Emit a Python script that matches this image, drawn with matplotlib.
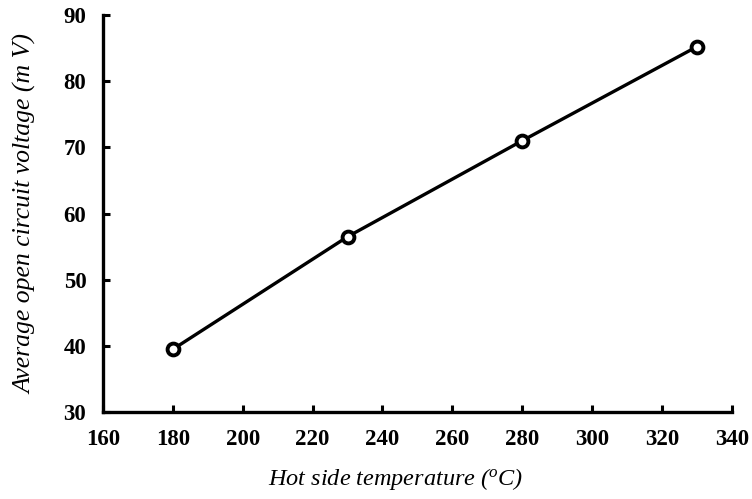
import matplotlib
matplotlib.use("Agg")
import matplotlib.pyplot as plt

# Hot side temperature (°C) vs. average open circuit voltage (mV)
temperature = [180, 230, 280, 330]
voltage = [39.5, 56.5, 71.0, 85.2]

x_ticks = [160, 180, 200, 220, 240, 260, 280, 300, 320, 340]
y_ticks = [30, 40, 50, 60, 70, 80, 90]

plt.rcParams["font.family"] = "Liberation Serif"
plt.rcParams["mathtext.fontset"] = "custom"
plt.rcParams["mathtext.rm"] = "Liberation Serif"
plt.rcParams["mathtext.it"] = "Liberation Serif:italic"

fig = plt.figure(figsize=(7.52, 4.99), dpi=100)
ax = fig.add_axes([0.137, 0.174, 0.836, 0.796])

ax.plot(temperature, voltage, color="black", linewidth=2.4,
        marker="o", markersize=8.5, markerfacecolor="white",
        markeredgecolor="black", markeredgewidth=2.8)

ax.set_xlim(160, 340)
ax.set_ylim(30, 90)
ax.set_xticks(x_ticks)
ax.set_yticks(y_ticks)

for side in ("top", "right"):
    ax.spines[side].set_visible(False)
for side in ("left", "bottom"):
    ax.spines[side].set_linewidth(2.4)

ax.tick_params(direction="in", length=5, width=2.2, labelsize=16.5)
for lbl in ax.get_xticklabels() + ax.get_yticklabels():
    lbl.set_fontweight("bold")
ax.tick_params(axis="x", pad=12)
ax.tick_params(axis="y", pad=12)

ax.set_xlabel("Hot side temperature ($^{o}$C)", fontsize=17.5, style="italic")
ax.set_ylabel("Average open circuit voltage (m V)", fontsize=18.5, style="italic")
ax.xaxis.set_label_coords(0.466, -0.136)
ax.yaxis.set_label_coords(-0.104, 0.5)

fig.savefig("out.png", dpi=100)
